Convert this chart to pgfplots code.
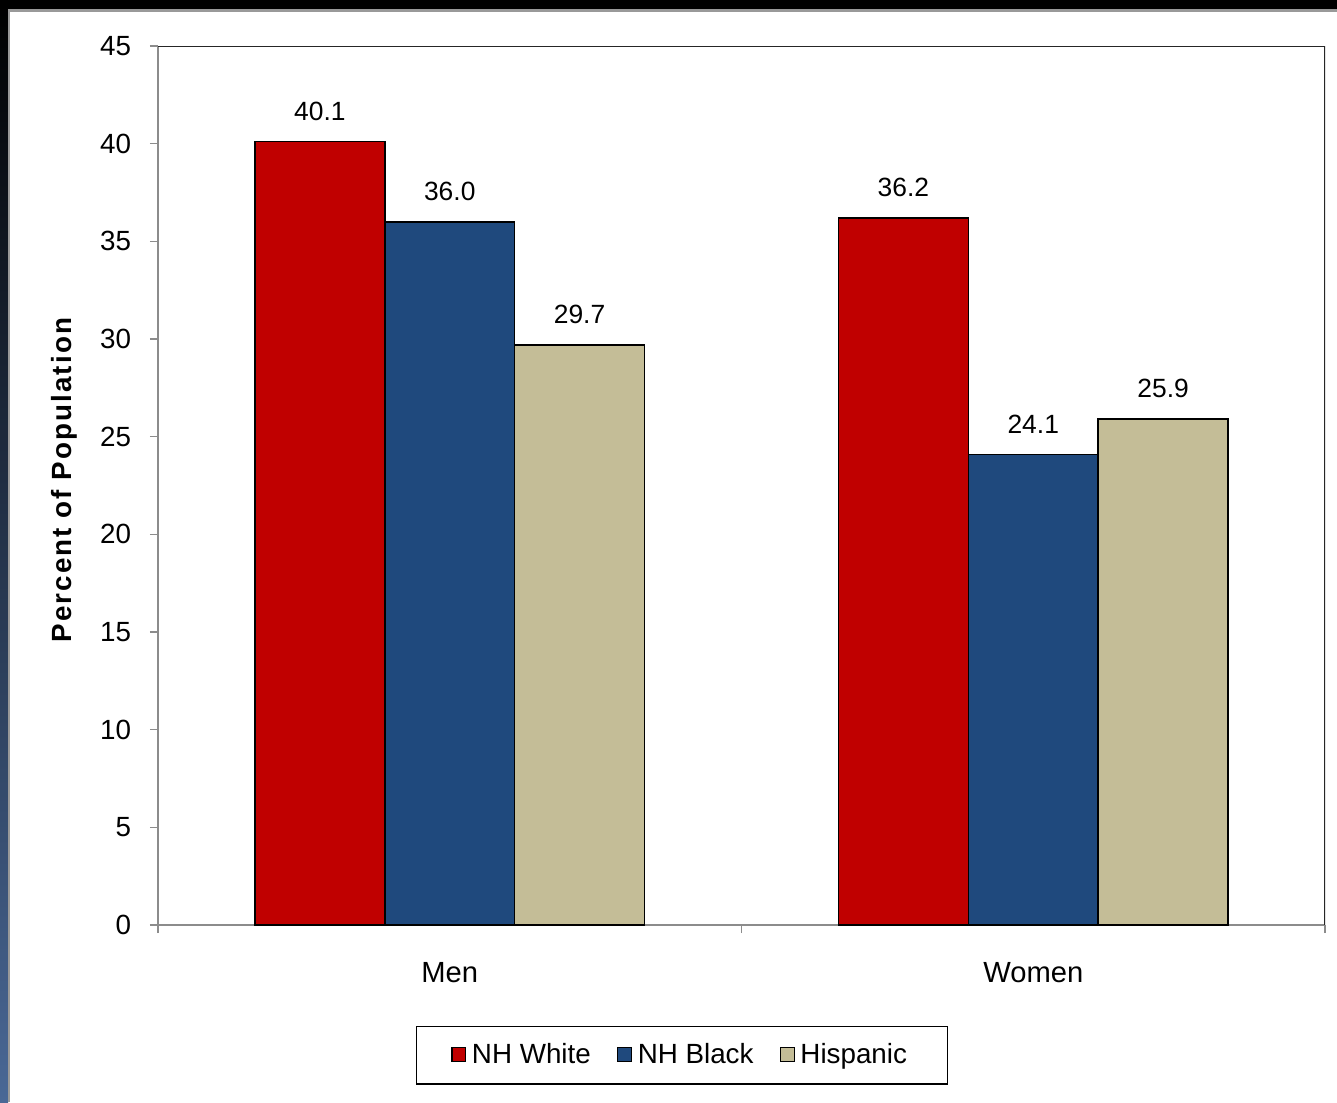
\documentclass[border=0pt]{standalone}
\usepackage{pgfplots}
\pgfplotsset{compat=1.18}
\usepackage{fontspec}
\setmainfont{Liberation Sans}
\definecolor{nhwhite}{HTML}{C00000}
\definecolor{nhblack}{HTML}{1F497D}
\definecolor{hisp}{HTML}{C4BD97}
\definecolor{frameblue}{RGB}{74,104,150}
\definecolor{framemid}{RGB}{22,32,52}

\begin{document}
\begin{tikzpicture}
\path[use as bounding box] (0pt,0pt) rectangle (481.32pt,396.72pt);
% slide frame: dark band on top, shaded strip on the left
\begin{scope}[x=0.36pt,y=0.36pt]
  \fill[white] (0,0) rectangle (1337,1102);
  \shade[top color=black, middle color=framemid, bottom color=frameblue] (0,0) rectangle (8,1102);
  \fill[black] (0,1093) rectangle (1337,1102);
  \fill[black!40] (8,0) rectangle (10,1093);
  \fill[black!40] (8,1090) rectangle (1337,1093);
\end{scope}

\begin{axis}[
  at={(56.88pt,63.72pt)}, anchor=south west,
  scale only axis, width=420.12pt, height=316.44pt,
  xmin=0, xmax=2, ymin=0, ymax=45,
  ytick={0,5,...,45},
  xtick={0,1,2}, xticklabels={},
  major tick length=2.9pt,
  extra x ticks={0.5,1.5}, extra x tick labels={Men,Women},
  extra x tick style={major tick length=0pt},
  axis x line*=bottom, axis y line*=left,
  axis line style={black!45, line width=0.5pt},
  tick align=outside,
  tick style={black!45, line width=0.5pt},
  /pgf/number format/assume math mode=true,
  y tick label style={font=\fontsize{10}{12}\selectfont, xshift=-3.3pt},
  x tick label style={font=\fontsize{10.5}{12}\selectfont, yshift=-10pt},
  ylabel={Percent of Population},
  ylabel style={font=\fontsize{10}{12}\selectfont\bfseries\addfontfeatures{LetterSpace=7.5},
    at={(axis description cs:-0.08,0.506)}, anchor=center},
  nodes near coords,
  nodes near coords style={font=\fontsize{9.5}{11}\selectfont, anchor=south, inner sep=0pt, yshift=7.3pt,
    /pgf/number format/.cd, fixed, fixed zerofill, precision=1},
  legend style={at={(rel axis cs:0.449,-0.148)}, anchor=center, draw=black, line width=0.5pt,
    font=\fontsize{10}{12}\selectfont, legend columns=3, inner xsep=12.5pt, inner ysep=4pt,
    /tikz/every even column/.append style={column sep=7.5pt}},
  legend image code/.code={\draw[#1, draw=black, line width=0.4pt] (0pt,-2.2pt) rectangle (5pt,2.8pt);},
]
\addplot[ybar, bar width=0.2225, bar shift=0pt, fill=nhwhite, draw=black, line width=0.5pt]
  coordinates {(0.2775,40.1) (1.2775,36.2)};
\addplot[ybar, bar width=0.2225, bar shift=0pt, fill=nhblack, draw=black, line width=0.5pt]
  coordinates {(0.5,36.0) (1.5,24.1)};
\addplot[ybar, bar width=0.2225, bar shift=0pt, fill=hisp, draw=black, line width=0.5pt]
  coordinates {(0.7225,29.7) (1.7225,25.9)};
\legend{NH White, NH Black, Hispanic}
\draw[black!85, line width=0.7pt] (rel axis cs:0,1) -- (rel axis cs:1,1) -- (rel axis cs:1,0);
\end{axis}
\end{tikzpicture}
\end{document}
